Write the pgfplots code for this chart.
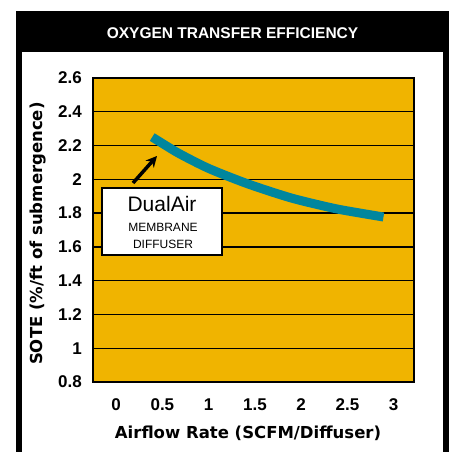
\documentclass[border=0pt]{standalone}
\usepackage{fontspec}
\setmainfont{Liberation Sans}
\newfontfamily\dejavu{DejaVu Sans}
\usepackage{pgfplots}
\pgfplotsset{compat=1.18}
\usetikzlibrary{arrows.meta}
\definecolor{bgyellow}{RGB}{240,180,0}
\definecolor{curveteal}{RGB}{0,134,158}
\begin{document}
\begin{tikzpicture}[x=1bp,y=1bp]
\fill[white] (-93,-70) rectangle (359,382);
\fill[black] (-77,330) rectangle (356,371);
\fill[black] (-77,-70) rectangle (-71,330);
\fill[black] (350,-70) rectangle (356,330);
\node[text=white, font=\fontsize{15.5bp}{18bp}\selectfont\bfseries] at (139.5,349) {OXYGEN TRANSFER EFFICIENCY};
\begin{axis}[
  at={(0,0)}, anchor=south west,
  scale only axis, width=321bp, height=304bp,
  xmin=-0.25, xmax=3.22, ymin=0.8, ymax=2.6,
  xtick={0,0.5,1,1.5,2,2.5,3}, ytick={0.8,1.0,1.2,1.4,1.6,1.8,2.0,2.2,2.4,2.6},
  xticklabels={0,0.5,1,1.5,2,2.5,3},
  yticklabels={0.8,1,1.2,1.4,1.6,1.8,2,2.2,2.4,2.6},
  major tick length=0,
  axis background/.style={fill=bgyellow},
  axis line style={line width=2bp},
  ymajorgrids, grid style={black, line width=1.3bp},
  tick label style={font=\fontsize{17bp}{20bp}\selectfont\bfseries},
  yticklabel style={anchor=east, inner sep=0pt, xshift=-11bp},
  xticklabel style={anchor=center, inner sep=0pt, yshift=-23bp},
  /pgf/number format/assume math mode=true,
  xlabel={Airflow Rate (SCFM/Diffuser)},
  ylabel={SOTE (\%/ft of submergence)},
  label style={font=\dejavu\bfseries\fontsize{16.5bp}{20bp}\selectfont},
  xlabel style={at={(axis description cs:0.483,-0.1678)}, anchor=center},
  ylabel style={at={(axis description cs:-0.1698,0.488)}, anchor=center},
]
\addplot[curveteal, line width=9bp, smooth] coordinates {
(0.39,2.25) (0.54,2.199) (0.69,2.150) (0.99,2.067) (1.34,1.990) (1.60,1.940) (1.89,1.890) (2.15,1.854) (2.43,1.820) (2.89,1.777)
};
\end{axis}
\draw[line width=1.5bp, fill=white] (9,127) rectangle (129,194);
\node[font=\fontsize{21bp}{24bp}\selectfont] at (69,178) {DualAir};
\node[font=\fontsize{12bp}{14bp}\selectfont] at (70,155) {MEMBRANE};
\node[font=\fontsize{12bp}{14bp}\selectfont] at (70,138) {DIFFUSER};
\draw[line width=3.5bp, -{Stealth[length=11bp,width=11bp]}] (40,199) -- (64,226);
\end{tikzpicture}
\end{document}
